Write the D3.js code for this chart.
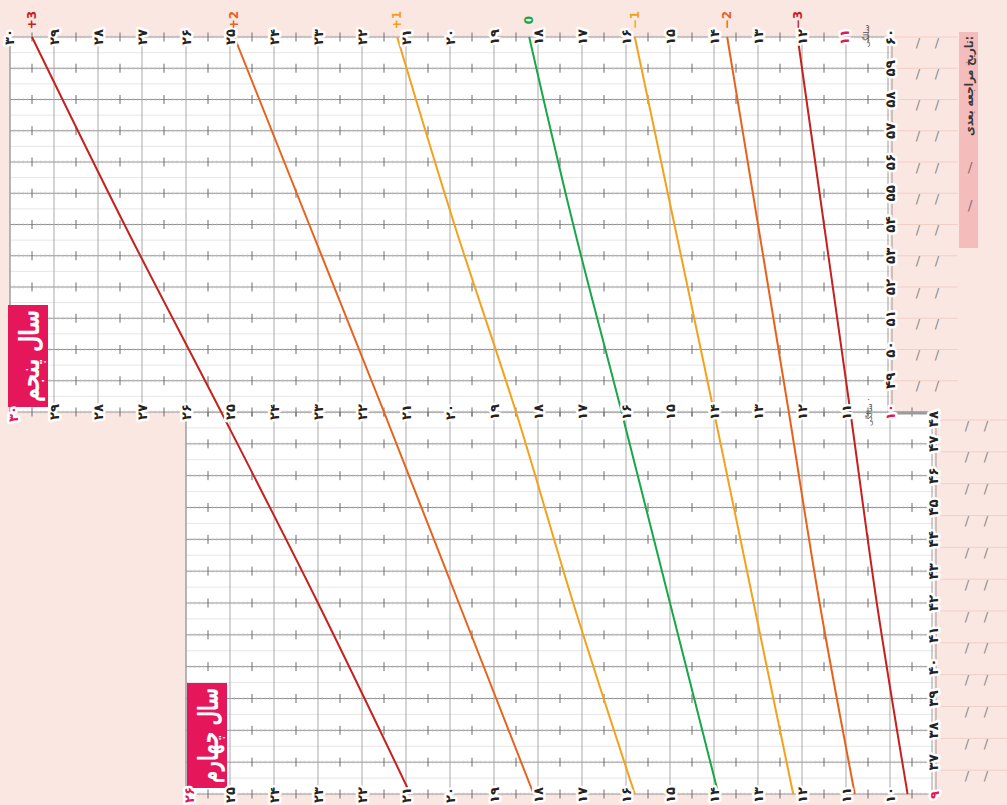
<!DOCTYPE html>
<html><head><meta charset="utf-8">
<script src="https://cdn.jsdelivr.net/npm/d3@7"></script>
<style>
body{margin:0;background:#fbe7e1;}
svg{display:block;}
.halo{paint-order:stroke;stroke:#fff;stroke-width:5px;stroke-linejoin:round;}
</style>
</head><body>
<svg id="c" width="1007" height="805"></svg>
<script>
// ---- data (months of age, weight in kg), read every 6 months ----
const months = [36,42,48,54,60];
const sdM3 = [9.6,10.3,10.9,11.5,12.1];
const sdM2 = [10.8,11.6,12.3,13.0,13.7];
const sdM1 = [12.2,13.1,14.0,14.9,15.8];
const sd0  = [13.9,15.0,16.1,17.2,18.2];
const sdP1 = [15.8,17.2,18.5,19.9,21.2];
const sdP2 = [18.1,19.8,21.5,23.2,24.9];
const sdP3 = [20.9,23.0,25.2,27.4,29.5];
const seriesNames = ["-3","-2","-1","0","+1","+2","+3"];

// tick labels
const lowerKgLabels = [10,11,12,13,14,15,16,17,18,19,20,21,22,23,24,25];
const upperBottomKgLabels = [11,12,13,14,15,16,17,18,19,20,21,22,23,24,25,26,27,28,29];
const upperTopKgLabels = [12,13,14,15,16,17,18,19,20,21,22,23,24,25,26,27,28,29,30];
const lowerMonthLabels = [37,38,39,40,41,42,43,44,45,46,47,48];
const upperMonthLabels = [49,50,51,52,53,54,55,56,57,58,59,60];
const yearTitles = ["سال چهارم","سال پنجم"];
const ageWord = "سالگی";
const nextVisit = "تاریخ مراجعه بعدی:";

// ---- styling ----
const colors = {"-3":"#c4211f","-2":"#e8621c","-1":"#f4a11c","0":"#18a64a","+1":"#f4a11c","+2":"#e8621c","+3":"#c4211f"};
const fa = n => String(n).replace(/\d/g, d => "۰۱۲۳۴۵۶۷۸۹"[d]);
const FONT = "'DejaVu Sans', sans-serif";

const svg = d3.select("#c");
const x = d3.scaleLinear().domain([10,30]).range([890,10]);
const y = d3.scaleLinear().domain([36,48,60]).range([794,412,37]);

svg.append("rect").attr("width",1007).attr("height",805).attr("fill","#fbe7e1");

function panel(kgMin, kgMax, mMin, mMax){
  const g = svg.append("g");
  const x0 = x(kgMax), x1 = x(kgMin), y0 = y(mMax), y1 = y(mMin);
  g.append("rect").attr("x",x0).attr("y",y0).attr("width",x1-x0).attr("height",y1-y0).attr("fill","#fff");
  const half = d3.range(mMin+0.5, mMax, 1);
  g.selectAll(null).data(half).join("line")
    .attr("x1",x0).attr("x2",x1).attr("y1",d=>y(d)).attr("y2",d=>y(d))
    .attr("stroke","#e6e6e6").attr("stroke-width",1);
  const kgs = d3.range(kgMin+1, kgMax+1, 1);
  g.selectAll(null).data(kgs).join("line")
    .attr("x1",d=>x(d)).attr("x2",d=>x(d)).attr("y1",y0).attr("y2",y1)
    .attr("stroke","#a9a9a9").attr("stroke-width",1);
  const ms = d3.range(mMin, mMax+1, 1);
  g.selectAll(null).data(ms).join("line")
    .attr("x1",x0).attr("x2",x1).attr("y1",d=>y(d)).attr("y2",d=>y(d))
    .attr("stroke","#949494").attr("stroke-width",1);
  let fine = "", halfT = "";
  const tenths = d3.range(Math.round(kgMin*10), Math.round(kgMax*10)+1, 1).map(v=>v/10);
  ms.forEach(m=>{
    const yy = y(m);
    tenths.forEach(k=>{
      const xx = x(k);
      if (Math.abs(k*2 - Math.round(k*2))<1e-6 && Math.abs(k-Math.round(k))>1e-6){
        halfT += `M${xx},${yy-4.5}V${yy+4.5}`;
      } else {
        fine += `M${xx},${yy-1.6}V${yy+1.6}`;
      }
    });
  });
  g.append("path").attr("d",fine).attr("stroke","#c4c4c4").attr("stroke-width",0.6).attr("fill","none");
  g.append("path").attr("d",halfT).attr("stroke","#6a6a6a").attr("stroke-width",1).attr("fill","none");
  g.append("line").attr("x1",x0).attr("x2",x0).attr("y1",y0).attr("y2",y1).attr("stroke","#9a9a9a");
  [-2,2].forEach(o=>g.append("line").attr("x1",x1+o).attr("x2",x1+o).attr("y1",y0).attr("y2",y1)
    .attr("stroke","#9a9a9a").attr("stroke-width",1));
  return g;
}

function dateRows(rows, xa, xb, s1, s2){
  rows.forEach(r=>{
    svg.append("line").attr("x1",xa).attr("x2",xb).attr("y1",r).attr("y2",r)
      .attr("stroke","#efcfc6").attr("stroke-width",1);
    [s1,s2].forEach(sx=>svg.append("text").attr("x",sx).attr("y",r+5)
      .attr("text-anchor","middle").attr("dominant-baseline","central")
      .attr("font-family",FONT).attr("font-size",13).attr("fill","#8a8a8a").text("/"));
  });
}
dateRows(upperMonthLabels.map(m=>y(m)), 895, 958, 918, 937);
dateRows(lowerMonthLabels.map(m=>y(m)+8), 940, 1007, 967, 986);

svg.append("rect").attr("x",959).attr("y",32).attr("width",19).attr("height",216).attr("fill","#f5bcbc");
svg.append("text").attr("transform","translate(969,86) rotate(-90)")
  .attr("text-anchor","middle").attr("dominant-baseline","central")
  .attr("font-family",FONT).attr("font-weight","bold").attr("font-size",12).attr("fill","#3a3a3a")
  .attr("textLength",100).attr("lengthAdjust","spacingAndGlyphs")
  .text(nextVisit);
[167,205].forEach(yy=>svg.append("text").attr("x",970).attr("y",yy)
  .attr("text-anchor","middle").attr("dominant-baseline","central")
  .attr("font-family",FONT).attr("font-size",14).attr("fill","#8a7070").text("/"));

panel(9, 26, 36, 48);
svg.append("line").attr("x1",x(10)).attr("x2",x(9)).attr("y1",y(48)+1).attr("y2",y(48)+1)
  .attr("stroke","#9a9a9a").attr("stroke-width",3);
panel(10, 30, 48, 60);

// curves
const all = [sdM3,sdM2,sdM1,sd0,sdP1,sdP2,sdP3];
const line = d3.line().x(d=>x(d[1])).y(d=>y(d[0])).curve(d3.curveMonotoneY);
all.forEach((vals,i)=>{
  const pts = months.map((m,j)=>[m, vals[j]]);
  svg.append("path").attr("d",line(pts)).attr("fill","none")
    .attr("stroke",colors[seriesNames[i]]).attr("stroke-width",2);
});

// year titles
function yearBox(bx, by, bw, bh, txt){
  svg.append("rect").attr("x",bx).attr("y",by).attr("width",bw).attr("height",bh).attr("fill","#e5175a");
  svg.append("text").attr("transform",`translate(${bx+bw/2+1},${by+bh/2}) rotate(-90)`)
    .attr("text-anchor","middle").attr("dominant-baseline","central")
    .attr("font-family",FONT).attr("font-weight","bold").attr("font-size",27).attr("fill","#fff")
    .attr("textLength", bh-10).attr("lengthAdjust","spacingAndGlyphs")
    .text(txt);
}
yearBox(8, 305, 40, 102, yearTitles[1]);
yearBox(187, 683, 40, 105, yearTitles[0]);

function rlabel(xx, yy, txt, opts={}){
  return svg.append("text")
    .attr("class", opts.halo===false ? null : "halo")
    .attr("transform",`translate(${xx},${yy}) rotate(-90)`)
    .attr("text-anchor","middle").attr("dominant-baseline","central")
    .attr("font-family",FONT).attr("font-weight",opts.weight||"bold")
    .attr("font-size",opts.size||13).attr("fill",opts.fill||"#222")
    .text(txt);
}

lowerKgLabels.forEach(k=>rlabel(x(k), y(36)+1, fa(k)));
rlabel(x(26)+3, y(36)+1, fa(26), {fill:"#e3175a"});
rlabel(x(9), y(36)+1, fa(9), {fill:"#e3175a"});
upperBottomKgLabels.forEach(k=>rlabel(x(k), y(48), fa(k)));
rlabel(x(30)+3, y(48)+2, fa(30), {fill:"#e3175a"});
rlabel(x(10), y(48), fa(10), {fill:"#e3175a"});
rlabel(869, y(48), ageWord + " ·", {weight:"normal", size:8, fill:"#555", halo:false});
upperTopKgLabels.forEach(k=>rlabel(k===30? x(k)-1 : x(k), y(60), fa(k)));
rlabel(x(11)-2, y(60), fa(11), {fill:"#e3175a"});
rlabel(866, y(60)-1, ageWord, {weight:"normal", size:8, fill:"#555", halo:false});

lowerMonthLabels.forEach(m=>rlabel(x(9)-1, m===48 ? y(m)+7 : y(m), fa(m), {size:13.5}));
upperMonthLabels.forEach(m=>rlabel(x(10), y(m), fa(m), {size:13.5}));

all.forEach((vals,i)=>{
  const nm = seriesNames[i];
  const txt = nm.startsWith("-") ? "−" + nm.slice(1) : nm;
  svg.append("text").attr("transform",`translate(${x(vals[vals.length-1])},20) rotate(-90)`)
    .attr("text-anchor","middle").attr("dominant-baseline","central")
    .attr("font-family",FONT).attr("font-weight","bold").attr("font-size",12)
    .attr("fill",colors[nm]).text(txt);
});
</script>
</body></html>
